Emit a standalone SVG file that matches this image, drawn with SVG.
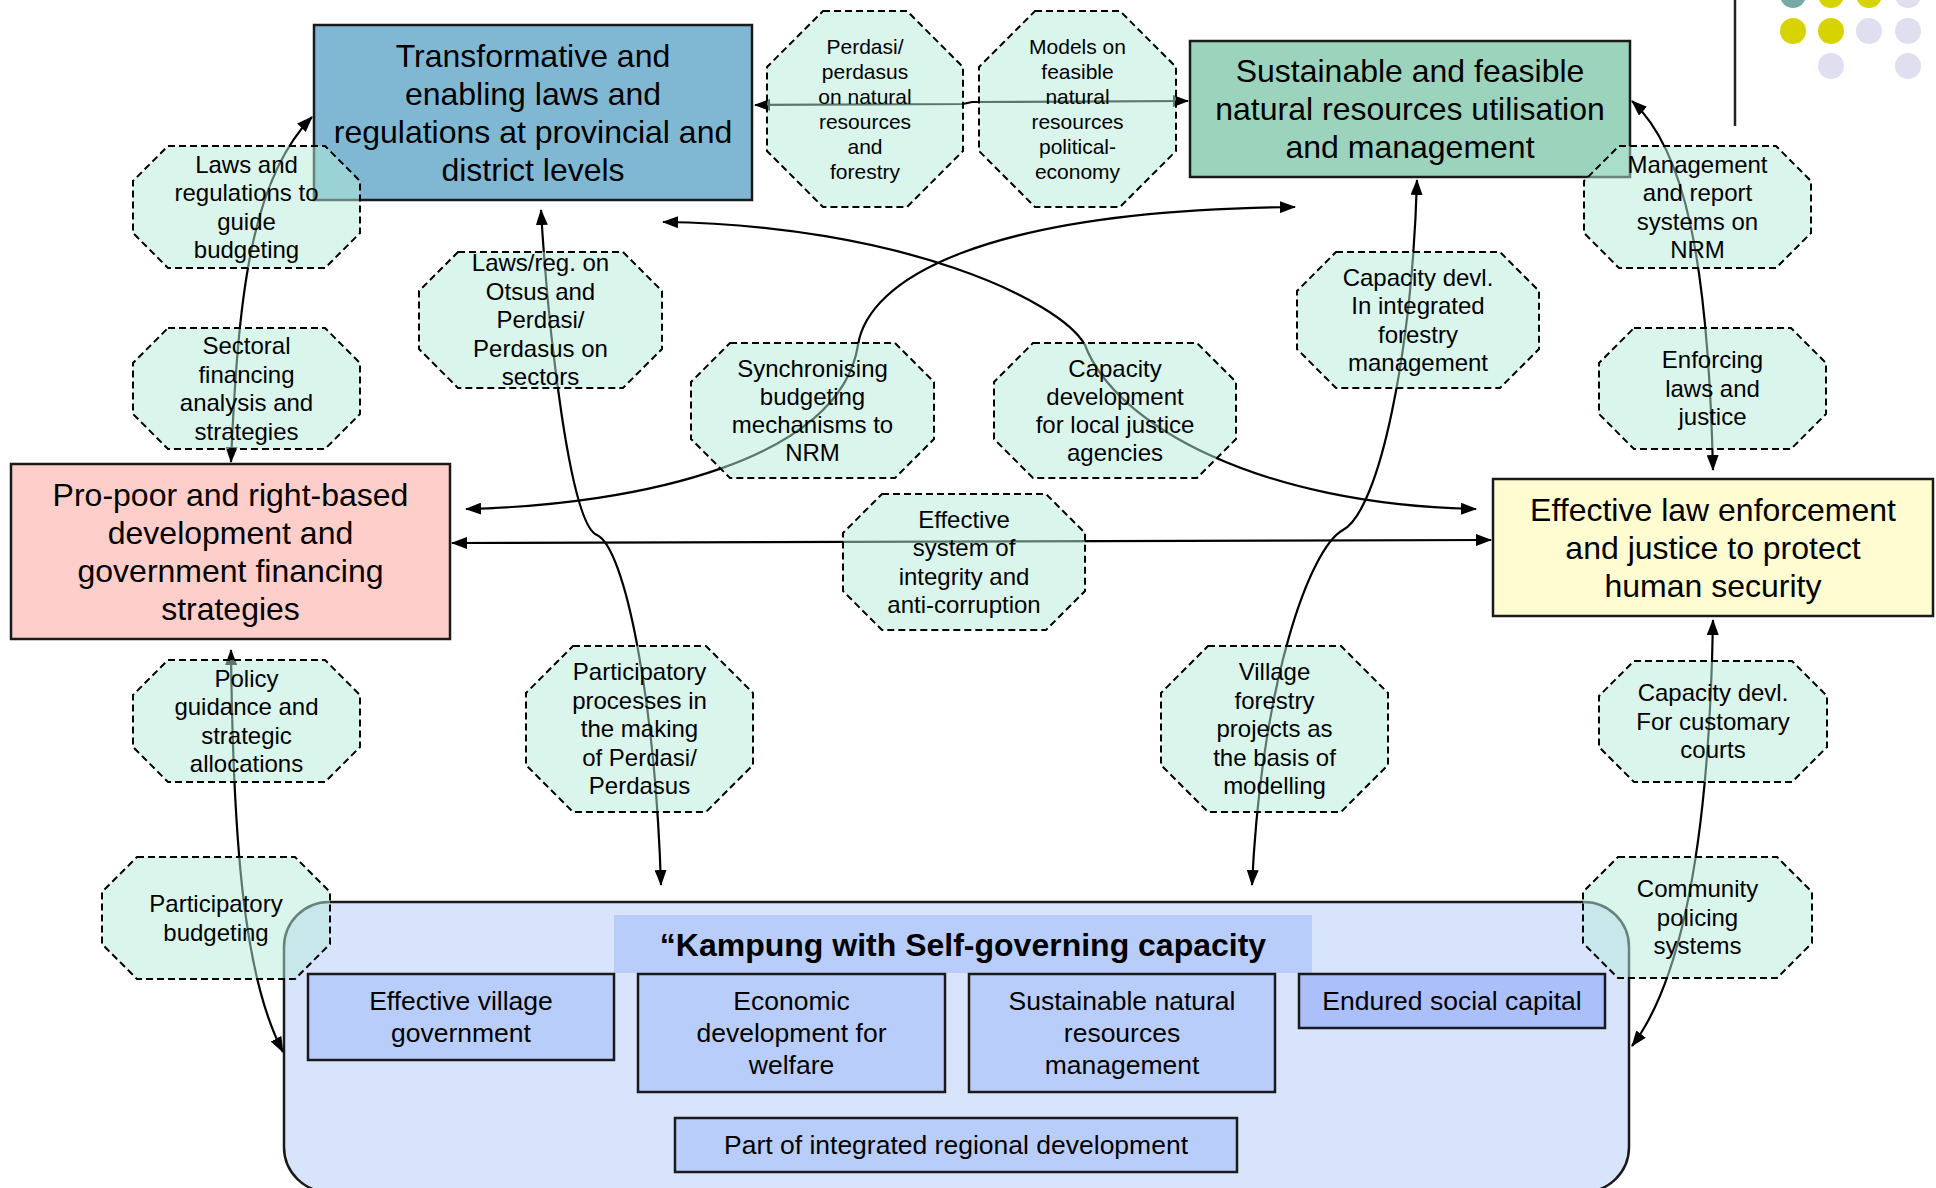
<svg xmlns="http://www.w3.org/2000/svg" width="1936" height="1188" viewBox="0 0 1936 1188">
<style>
text{font-family:"Liberation Sans",Arial,Helvetica,sans-serif;fill:#000;text-anchor:middle}
.big{font-size:32px}
.mid{font-size:26.5px}
.oct{font-size:24px}
.sm{font-size:21px}
.ttl{font-size:32px;font-weight:bold}
.hex{fill:#b5ebd8;fill-opacity:.5;stroke:#000;stroke-width:2;stroke-dasharray:7 4}
.bx{stroke:#1a1a1a;stroke-width:2.5}
.con{fill:none;stroke:#000;stroke-width:2.2;marker-start:url(#ah);marker-end:url(#ah)}
</style>
<defs>
<marker id="ah" viewBox="0 0 16 12" refX="15" refY="6" markerWidth="16" markerHeight="12" markerUnits="userSpaceOnUse" orient="auto-start-reverse">
<path d="M0,0 L16,6 L0,12 z" fill="#000"/>
</marker>
</defs>
<rect width="1936" height="1188" fill="#fff"/>

<g id="n-laws">
<rect class="bx" x="314" y="25" width="438" height="175" fill="#80b8d4"/>
<text class="big"><tspan x="533" y="66.5">Transformative and</tspan><tspan x="533" y="104.5">enabling laws and</tspan><tspan x="533" y="142.5">regulations at provincial and</tspan><tspan x="533" y="180.5">district levels</tspan></text>
</g>
<g id="n-sustainable">
<rect class="bx" x="1190" y="41" width="440" height="136" fill="#9cd3bc"/>
<text class="big"><tspan x="1410" y="82">Sustainable and feasible</tspan><tspan x="1410" y="120">natural resources utilisation</tspan><tspan x="1410" y="158">and management</tspan></text>
</g>
<g id="n-propoor">
<rect class="bx" x="11" y="464" width="439" height="175" fill="#fecfca"/>
<text class="big"><tspan x="230.5" y="505.5">Pro-poor and right-based</tspan><tspan x="230.5" y="543.5">development and</tspan><tspan x="230.5" y="581.5">government financing</tspan><tspan x="230.5" y="619.5">strategies</tspan></text>
</g>
<g id="n-lawenforcement">
<rect class="bx" x="1493" y="479" width="440" height="137" fill="#fefcd0"/>
<text class="big"><tspan x="1713" y="520.5">Effective law enforcement</tspan><tspan x="1713" y="558.5">and justice to protect</tspan><tspan x="1713" y="596.5">human security</tspan></text>
</g>
<g id="n-kampung">
<rect class="bx" x="284" y="902" width="1345" height="290" rx="45" ry="45" fill="#d8e3fc"/>
<rect x="614" y="915" width="698" height="58" fill="#b9cdfb"/>
<text class="ttl" x="963" y="956">“Kampung with Self-governing capacity</text>
<g id="n-village-gov">
<rect class="bx" x="308" y="974" width="306" height="86" fill="#b9cdfb"/>
<text class="mid"><tspan x="461" y="1010.3">Effective village</tspan><tspan x="461" y="1042.3">government</tspan></text>
</g>
<g id="n-economic">
<rect class="bx" x="638" y="974" width="307" height="118" fill="#b9cdfb"/>
<text class="mid"><tspan x="791.5" y="1010.3">Economic</tspan><tspan x="791.5" y="1042.3">development for</tspan><tspan x="791.5" y="1074.3">welfare</tspan></text>
</g>
<g id="n-snrm">
<rect class="bx" x="969" y="974" width="306" height="118" fill="#b9cdfb"/>
<text class="mid"><tspan x="1122" y="1010.3">Sustainable natural</tspan><tspan x="1122" y="1042.3">resources</tspan><tspan x="1122" y="1074.3">management</tspan></text>
</g>
<g id="n-social">
<rect class="bx" x="1299" y="974" width="306" height="54" fill="#abbffb"/>
<text class="mid" x="1452" y="1010.3">Endured social capital</text>
</g>
<g id="n-regional">
<rect class="bx" x="675" y="1118" width="562" height="54" fill="#b9cdfb"/>
<text class="mid" x="956" y="1154.3">Part of integrated regional development</text>
</g>
</g>

<g id="connectors">
<path class="con" d="M231,462 C238,300 250,180 312,117"/>
<path class="con" d="M231,650 C233,850 245,980 283,1052"/>
<path class="con" d="M755,105 L963,104 L972,102 L1188,101"/>
<path class="con" d="M541,210 C548,330 570,525 597,535 C625,548 655,700 661,885"/>
<path class="con" d="M1417,180 C1412,350 1380,510 1343,530 C1310,548 1262,680 1252,885"/>
<path class="con" d="M452,543 L1491,540"/>
<path class="con" d="M466,509 C640,505 840,460 858,345 C868,280 980,210 1295,207"/>
<path class="con" d="M663,222 C900,225 1060,300 1085,345 C1115,425 1260,505 1476,509"/>
<path class="con" d="M1632,101 C1685,150 1708,260 1713,470"/>
<path class="con" d="M1713,620 C1710,800 1690,970 1632,1046"/>
</g>

<g id="o-laws-budget">
<polygon class="hex" points="168,146 325,146 360,181 360,233 325,268 168,268 133,233 133,181"/>
<text class="oct"><tspan x="246.5" y="172.7">Laws and</tspan><tspan x="246.5" y="201.2">regulations to</tspan><tspan x="246.5" y="229.7">guide</tspan><tspan x="246.5" y="258.2">budgeting</tspan></text>
</g>
<g id="o-sectoral">
<polygon class="hex" points="168,328 325,328 360,363 360,414 325,449 168,449 133,414 133,363"/>
<text class="oct"><tspan x="246.5" y="354.2">Sectoral</tspan><tspan x="246.5" y="382.7">financing</tspan><tspan x="246.5" y="411.2">analysis and</tspan><tspan x="246.5" y="439.7">strategies</tspan></text>
</g>
<g id="o-otsus">
<polygon class="hex" points="458,252 623,252 662,291 662,349 623,388 458,388 419,349 419,291"/>
<text class="oct"><tspan x="540.5" y="271.4">Laws/reg. on</tspan><tspan x="540.5" y="299.9">Otsus and</tspan><tspan x="540.5" y="328.4">Perdasi/</tspan><tspan x="540.5" y="356.9">Perdasus on</tspan><tspan x="540.5" y="385.4">sectors</tspan></text>
</g>
<g id="o-sync">
<polygon class="hex" points="730,343 895,343 934,382 934,439 895,478 730,478 691,439 691,382"/>
<text class="oct"><tspan x="812.5" y="377">Synchronising</tspan><tspan x="812.5" y="405">budgeting</tspan><tspan x="812.5" y="433">mechanisms to</tspan><tspan x="812.5" y="461">NRM</tspan></text>
</g>
<g id="o-justice-cap">
<polygon class="hex" points="1033,343 1197,343 1236,382 1236,439 1197,478 1033,478 994,439 994,382"/>
<text class="oct"><tspan x="1115" y="377">Capacity</tspan><tspan x="1115" y="405">development</tspan><tspan x="1115" y="433">for local justice</tspan><tspan x="1115" y="461">agencies</tspan></text>
</g>
<g id="o-integrity">
<polygon class="hex" points="882,494 1046,494 1085,533 1085,591 1046,630 882,630 843,591 843,533"/>
<text class="oct"><tspan x="964" y="527.7">Effective</tspan><tspan x="964" y="556.2">system of</tspan><tspan x="964" y="584.7">integrity and</tspan><tspan x="964" y="613.2">anti-corruption</tspan></text>
</g>
<g id="o-participatory-proc">
<polygon class="hex" points="573,646 706,646 753,693 753,765 706,812 573,812 526,765 526,693"/>
<text class="oct"><tspan x="639.5" y="680.4">Participatory</tspan><tspan x="639.5" y="708.9">processes in</tspan><tspan x="639.5" y="737.4">the making</tspan><tspan x="639.5" y="765.9">of Perdasi/</tspan><tspan x="639.5" y="794.4">Perdasus</tspan></text>
</g>
<g id="o-village-forestry">
<polygon class="hex" points="1208,646 1341,646 1388,693 1388,765 1341,812 1208,812 1161,765 1161,693"/>
<text class="oct"><tspan x="1274.5" y="680.4">Village</tspan><tspan x="1274.5" y="708.9">forestry</tspan><tspan x="1274.5" y="737.4">projects as</tspan><tspan x="1274.5" y="765.9">the basis of</tspan><tspan x="1274.5" y="794.4">modelling</tspan></text>
</g>
<g id="o-policy">
<polygon class="hex" points="168,660 325,660 360,695 360,747 325,782 168,782 133,747 133,695"/>
<text class="oct"><tspan x="246.5" y="686.7">Policy</tspan><tspan x="246.5" y="715.2">guidance and</tspan><tspan x="246.5" y="743.7">strategic</tspan><tspan x="246.5" y="772.2">allocations</tspan></text>
</g>
<g id="o-part-budget">
<polygon class="hex" points="137,857 295,857 330,892 330,944 295,979 137,979 102,944 102,892"/>
<text class="oct"><tspan x="216" y="912.2">Participatory</tspan><tspan x="216" y="940.7">budgeting</tspan></text>
</g>
<g id="o-perdasi">
<polygon class="hex" points="823,11 907,11 963,67 963,151 907,207 823,207 767,151 767,67"/>
<text class="sm"><tspan x="865" y="53.9">Perdasi/</tspan><tspan x="865" y="78.9">perdasus</tspan><tspan x="865" y="103.9">on natural</tspan><tspan x="865" y="128.9">resources</tspan><tspan x="865" y="153.9">and</tspan><tspan x="865" y="178.9">forestry</tspan></text>
</g>
<g id="o-models">
<polygon class="hex" points="1035,11 1120,11 1176,67 1176,151 1120,207 1035,207 979,151 979,67"/>
<text class="sm"><tspan x="1077.5" y="53.9">Models on</tspan><tspan x="1077.5" y="78.9">feasible</tspan><tspan x="1077.5" y="103.9">natural</tspan><tspan x="1077.5" y="128.9">resources</tspan><tspan x="1077.5" y="153.9">political-</tspan><tspan x="1077.5" y="178.9">economy</tspan></text>
</g>
<g id="o-management">
<polygon class="hex" points="1619,146 1776,146 1811,181 1811,233 1776,268 1619,268 1584,233 1584,181"/>
<text class="oct"><tspan x="1697.5" y="172.7">Management</tspan><tspan x="1697.5" y="201.2">and report</tspan><tspan x="1697.5" y="229.7">systems on</tspan><tspan x="1697.5" y="258.2">NRM</tspan></text>
</g>
<g id="o-enforcing">
<polygon class="hex" points="1634,328 1791,328 1826,363 1826,414 1791,449 1634,449 1599,414 1599,363"/>
<text class="oct"><tspan x="1712.5" y="368.4">Enforcing</tspan><tspan x="1712.5" y="396.9">laws and</tspan><tspan x="1712.5" y="425.4">justice</tspan></text>
</g>
<g id="o-forestry-cap">
<polygon class="hex" points="1336,252 1500,252 1539,291 1539,349 1500,388 1336,388 1297,349 1297,291"/>
<text class="oct"><tspan x="1418" y="285.7">Capacity devl.</tspan><tspan x="1418" y="314.2">In integrated</tspan><tspan x="1418" y="342.7">forestry</tspan><tspan x="1418" y="371.2">management</tspan></text>
</g>
<g id="o-customary">
<polygon class="hex" points="1634,661 1792,661 1827,696 1827,747 1792,782 1634,782 1599,747 1599,696"/>
<text class="oct"><tspan x="1713" y="701.4">Capacity devl.</tspan><tspan x="1713" y="729.9">For customary</tspan><tspan x="1713" y="758.4">courts</tspan></text>
</g>
<g id="o-community">
<polygon class="hex" points="1618,857 1777,857 1812,892 1812,943 1777,978 1618,978 1583,943 1583,892"/>
<text class="oct"><tspan x="1697.5" y="897.4">Community</tspan><tspan x="1697.5" y="925.9">policing</tspan><tspan x="1697.5" y="954.4">systems</tspan></text>
</g>

<g id="decoration">
<line x1="1735" y1="0" x2="1735" y2="126" stroke="#222" stroke-width="2.5"/>
<circle cx="1793" cy="-5" r="13" fill="#79a9a6"/>
<circle cx="1831" cy="-5" r="13" fill="#d7d300"/>
<circle cx="1869" cy="-5" r="13" fill="#d7d300"/>
<circle cx="1908" cy="-5" r="13" fill="#dfdff0"/>
<circle cx="1793" cy="31" r="13" fill="#d7d300"/>
<circle cx="1831" cy="31" r="13" fill="#d7d300"/>
<circle cx="1869" cy="31" r="13" fill="#dfdff0"/>
<circle cx="1908" cy="31" r="13" fill="#dfdff0"/>
<circle cx="1831" cy="66" r="13" fill="#dfdff0"/>
<circle cx="1908" cy="66" r="13" fill="#dfdff0"/>
</g>
</svg>
